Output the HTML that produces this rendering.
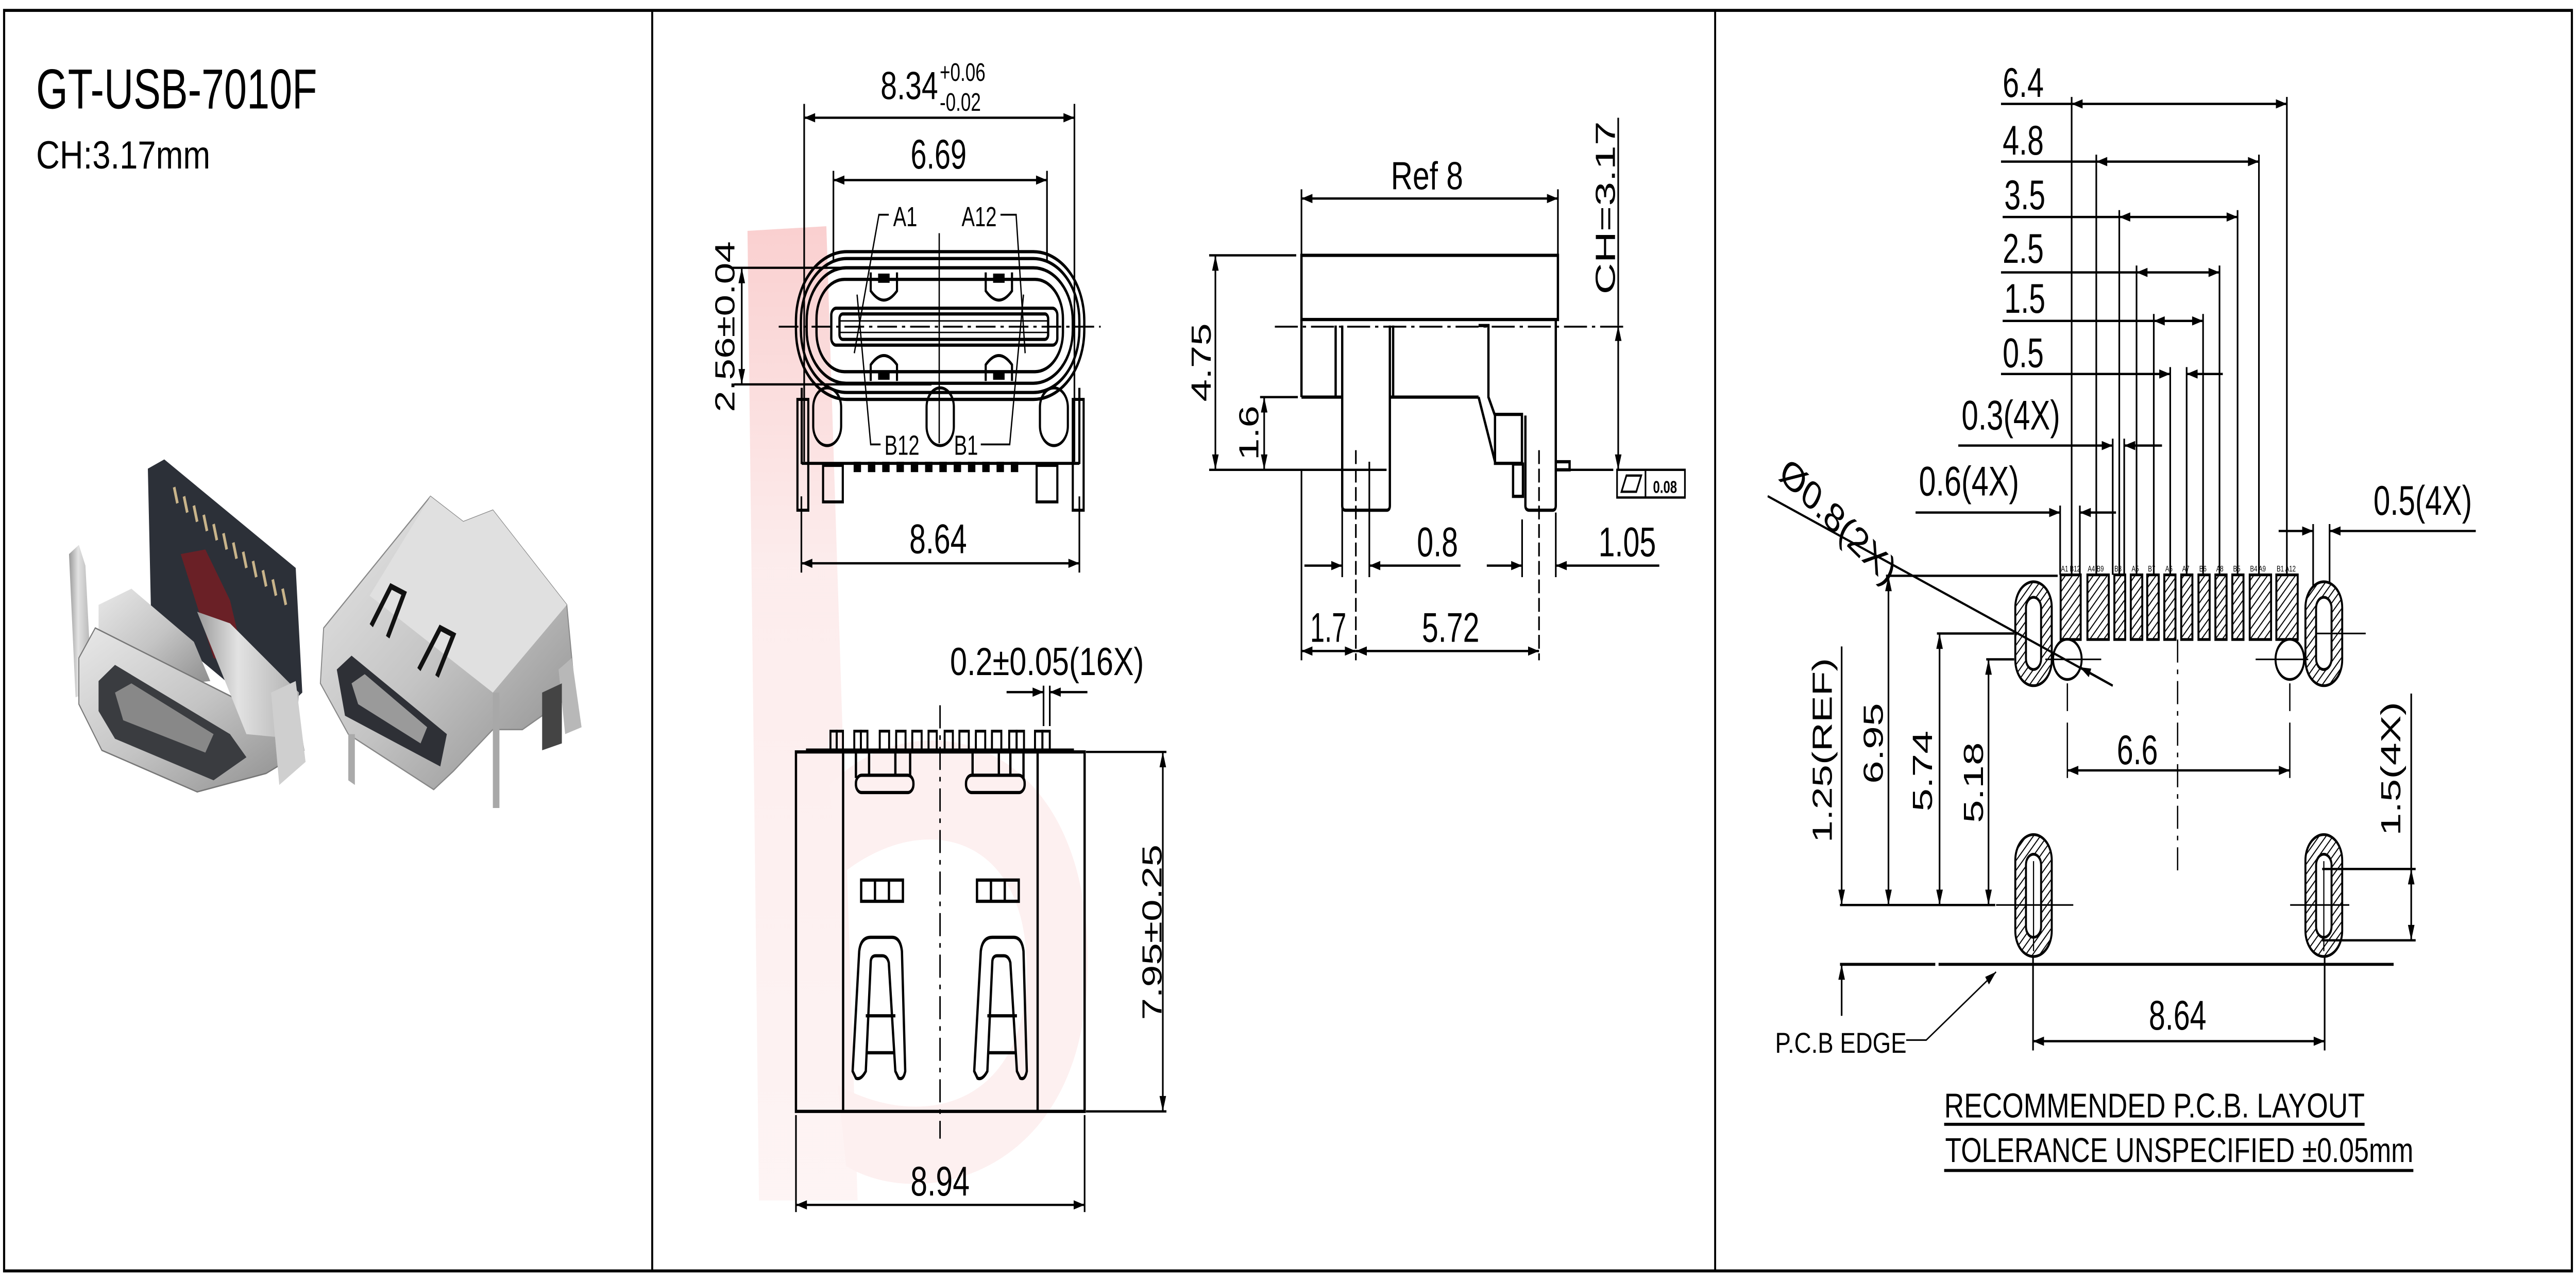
<!DOCTYPE html>
<html><head><meta charset="utf-8"><style>
html,body{margin:0;padding:0;background:#fff;width:100%;height:100%;overflow:hidden;}
svg{display:block;position:absolute;left:0;top:0;width:100vw;height:100vh;}
text{font-family:"Liberation Sans",Arial,sans-serif;fill:#000;}
</style></head><body>
<svg xmlns="http://www.w3.org/2000/svg" viewBox="0 0 1568 554" preserveAspectRatio="none">
<defs>
<marker id="a" viewBox="0 0 10 6" refX="10" refY="3" markerWidth="8" markerHeight="4" markerUnits="userSpaceOnUse" orient="auto-start-reverse"><path d="M0,0 L10,3 L0,6 z" fill="#000"/></marker>
<pattern id="h" patternUnits="userSpaceOnUse" width="3" height="3" patternTransform="rotate(45)"><rect width="3" height="3" fill="#fff"/><line x1="0" y1="0" x2="0" y2="3" stroke="#000" stroke-width="1.1"/></pattern>
<linearGradient id="pk" x1="0" y1="0" x2="0" y2="1"><stop offset="0" stop-color="#f8c4c4"/><stop offset="0.35" stop-color="#fce8e8"/><stop offset="1" stop-color="#fdf1f1"/></linearGradient>
<linearGradient id="met" x1="0" y1="0" x2="1" y2="1"><stop offset="0" stop-color="#e8e8e8"/><stop offset="0.5" stop-color="#c4c4c4"/><stop offset="1" stop-color="#8a8a8a"/></linearGradient>
<linearGradient id="met2" x1="0" y1="0" x2="1" y2="0"><stop offset="0" stop-color="#9a9a9a"/><stop offset="0.4" stop-color="#e2e2e2"/><stop offset="1" stop-color="#b0b0b0"/></linearGradient>
</defs>

<rect x="2.5" y="4.5" width="1563" height="546" fill="none" stroke="#000" stroke-width="1.3"/>
<line x1="397" y1="4.5" x2="397" y2="550.5" stroke="#000" stroke-width="1.2"/>
<line x1="1044" y1="4.5" x2="1044" y2="550.5" stroke="#000" stroke-width="1.2"/>

<text x="22" y="47" font-size="24.5" textLength="171" lengthAdjust="spacingAndGlyphs">GT-USB-7010F</text>
<text x="22" y="73" font-size="17" textLength="106" lengthAdjust="spacingAndGlyphs">CH:3.17mm</text>

<g>
<polygon points="42,240 48,236 52,245 56,300 46,302" fill="url(#met2)"/>
<polygon points="90,203 100,199 180,246 184,300 166,312 92,268" fill="#2c3038"/>
<polygon points="110,240 125,238 140,260 150,290 130,285" fill="#7a1d22" opacity="0.8"/>
<g stroke="#c9b48a" stroke-width="1.6">
<line x1="106" y1="211" x2="108" y2="218"/><line x1="112" y1="215" x2="114" y2="222"/><line x1="118" y1="219" x2="120" y2="226"/><line x1="124" y1="223" x2="126" y2="230"/><line x1="130" y1="227" x2="132" y2="234"/><line x1="136" y1="231" x2="138" y2="238"/><line x1="142" y1="235" x2="144" y2="242"/><line x1="148" y1="239" x2="150" y2="246"/><line x1="154" y1="243" x2="156" y2="250"/><line x1="160" y1="247" x2="162" y2="254"/><line x1="166" y1="251" x2="168" y2="258"/><line x1="172" y1="255" x2="174" y2="262"/>
</g>
<polygon points="60,262 80,255 118,278 128,295 60,300" fill="url(#met)"/>
<polygon points="48,285 58,272 150,305 182,312 185,325 162,335 120,343 62,325 48,305" fill="url(#met)" stroke="#777" stroke-width="0.6"/>
<polygon points="60,295 70,288 140,318 150,328 130,338 70,320 60,308" fill="#3a3c40"/>
<polygon points="70,300 80,296 130,318 125,326 75,312" fill="#888"/>
<polygon points="120,265 140,270 182,300 180,320 150,318" fill="url(#met2)"/>
<polygon points="165,300 180,295 186,330 170,340" fill="#cfcfcf"/>
</g>
<g>
<polygon points="197,272 262,215 282,226 300,221 345,262 350,300 318,316 300,316 276,334 264,342 212,318 195,296" fill="url(#met)" stroke="#888" stroke-width="0.6"/>
<polygon points="262,215 282,226 300,221 345,262 300,300 225,258" fill="#e0e0e0"/>
<polygon points="205,290 214,284 272,318 268,332 210,310" fill="#2e3036"/>
<polygon points="214,296 222,292 260,315 256,322 218,305" fill="#9a9a9a"/>
<path d="M226,271 L238,254 L246,257 L236,276" fill="none" stroke="#111" stroke-width="2.4"/>
<path d="M255,290 L268,272 L276,275 L266,293" fill="none" stroke="#111" stroke-width="2.4"/>
<polygon points="300,300 304,300 304,350 300,350" fill="#a8a8a8"/>
<polygon points="340,290 348,285 354,315 344,318" fill="#b8b8b8"/>
<polygon points="330,300 342,296 342,322 330,325" fill="#444"/>
<polygon points="212,318 216,318 216,340 212,338" fill="#aaa"/>
</g>

<polygon points="455,100 503,98 522,520 462,520" fill="url(#pk)" opacity="0.8"/>
<path d="M505,340 C560,300 665,320 662,420 C660,510 560,525 515,505 L510,470 C560,490 625,480 625,420 C625,360 560,350 510,380 Z" fill="#fdf0f0"/>

<g stroke="#000" fill="none" stroke-width="1">
<line x1="489.5" y1="45" x2="489.5" y2="200"/>
<line x1="654" y1="45" x2="654" y2="200"/>
<line x1="489.5" y1="51" x2="654" y2="51" marker-start="url(#a)" marker-end="url(#a)"/>
<line x1="507.3" y1="74" x2="507.3" y2="113"/>
<line x1="637.3" y1="74" x2="637.3" y2="113"/>
<line x1="507.3" y1="78" x2="637.3" y2="78" marker-start="url(#a)" marker-end="url(#a)"/>
<line x1="445" y1="116" x2="534" y2="116"/>
<line x1="447" y1="166.5" x2="567" y2="166.5"/>
<line x1="451.5" y1="116" x2="451.5" y2="166.5" marker-start="url(#a)" marker-end="url(#a)"/>
<line x1="487.8" y1="215" x2="487.8" y2="248"/>
<line x1="657" y1="215" x2="657" y2="248"/>
<line x1="487.8" y1="244" x2="657" y2="244" marker-start="url(#a)" marker-end="url(#a)"/>
<g stroke-width="1.4">
<rect x="484.5" y="109" width="175.5" height="64" rx="31" ry="30"/>
<rect x="487.5" y="112" width="169.5" height="58" rx="28" ry="27"/>
<rect x="491" y="116" width="162" height="50" rx="24" ry="23"/>
<rect x="497" y="121" width="150" height="40" rx="17" ry="17"/>
<rect x="506" y="133.5" width="137.6" height="16" rx="3"/>
<rect x="511" y="136" width="127" height="11" rx="2"/>
</g>
<line x1="511" y1="139" x2="638" y2="139" stroke-width="0.6"/>
<line x1="511" y1="144" x2="638" y2="144" stroke-width="0.6"/>
<path d="M530,118 L530,126 Q538,134 546,126 L546,118" stroke-width="1.3"/>
<path d="M600,118 L600,126 Q608,134 616,126 L616,118" stroke-width="1.3"/>
<path d="M530,165 L530,158 Q538,150 546,158 L546,165" stroke-width="1.3"/>
<path d="M600,165 L600,158 Q608,150 616,158 L616,165" stroke-width="1.3"/>
<rect x="535" y="119" width="6" height="3" fill="#000"/><rect x="605" y="119" width="6" height="3" fill="#000"/>
<rect x="535" y="161" width="6" height="3" fill="#000"/><rect x="605" y="161" width="6" height="3" fill="#000"/>
<line x1="474" y1="141.5" x2="670" y2="141.5" stroke-dasharray="12,3,2,3" stroke-width="0.8"/>
<line x1="571.7" y1="101" x2="571.7" y2="192" stroke-width="0.8"/>
<path d="M541,93 L535,93 L520,153" stroke-width="0.8"/>
<path d="M609,93 L618.5,93 L624,153" stroke-width="0.8"/>
<path d="M536,192.5 L530,192.5 L521.7,127.6" stroke-width="0.8"/>
<path d="M597,192.5 L614.6,192.5 L623,127.6" stroke-width="0.8"/>
<g stroke-width="1.3">
<line x1="488" y1="168" x2="488" y2="201"/><line x1="657" y1="168" x2="657" y2="201"/>
<line x1="488" y1="200.7" x2="657" y2="200.7"/>
<rect x="485.4" y="173" width="6.6" height="48"/>
<rect x="653" y="173" width="6.6" height="48"/>
<rect x="495" y="168" width="17" height="25" rx="8.5"/>
<rect x="564" y="168" width="16.6" height="25" rx="8.3"/>
<rect x="633" y="168" width="17" height="25" rx="8.5"/>
<rect x="501" y="201.6" width="12" height="15.8"/>
<rect x="631" y="201.6" width="12.6" height="15.8"/>
</g>
<g fill="#000" stroke="none">
<rect x="519.6" y="200" width="4.5" height="4.5"/><rect x="528.3" y="200" width="4.5" height="4.5"/><rect x="537" y="200" width="4.5" height="4.5"/><rect x="545.7" y="200" width="4.5" height="4.5"/><rect x="554.4" y="200" width="4.5" height="4.5"/><rect x="563.1" y="200" width="4.5" height="4.5"/><rect x="571.8" y="200" width="4.5" height="4.5"/><rect x="580.5" y="200" width="4.5" height="4.5"/><rect x="589.2" y="200" width="4.5" height="4.5"/><rect x="597.9" y="200" width="4.5" height="4.5"/><rect x="606.6" y="200" width="4.5" height="4.5"/><rect x="615.3" y="200" width="4.5" height="4.5"/>
</g>

<line x1="792.2" y1="82" x2="792.2" y2="111"/>
<line x1="948.3" y1="82" x2="948.3" y2="111"/>
<line x1="792.2" y1="86" x2="948.3" y2="86" marker-start="url(#a)" marker-end="url(#a)"/>
<g stroke-width="1.4">
<rect x="792.2" y="110.6" width="156.1" height="27.8"/>
<line x1="792.2" y1="138.4" x2="792.2" y2="172"/>
<line x1="792.2" y1="172" x2="817" y2="172"/>
<line x1="813" y1="141" x2="813" y2="172"/>
<path d="M817,141 L817,219 Q817,221 819,221 L844,221 Q846,221 846,219 L846,141"/>
<line x1="848" y1="141" x2="848" y2="172"/>
<line x1="846" y1="172" x2="900" y2="172"/>
<path d="M900,141 L906,141 L906,172 L910,180"/>
<path d="M900,172 L910,200"/>
<rect x="910" y="179.5" width="16.4" height="21.2"/>
<path d="M928.5,180 L928.5,219 Q928.5,221 931,221 L945,221 Q947,221 947,219 L947,138"/>
<rect x="921" y="201" width="6" height="14"/>
<rect x="947" y="200" width="8.4" height="3.5"/>
</g>
<line x1="776" y1="141.5" x2="988" y2="141.5" stroke-dasharray="14,3,2,3" stroke-width="0.8"/>
<line x1="736" y1="110.6" x2="789" y2="110.6"/>
<line x1="736" y1="203.5" x2="844" y2="203.5"/>
<line x1="955" y1="203.5" x2="982" y2="203.5"/>
<line x1="739.8" y1="110.6" x2="739.8" y2="203.5" marker-start="url(#a)" marker-end="url(#a)"/>
<line x1="767" y1="172" x2="790" y2="172"/>
<line x1="769.5" y1="172" x2="769.5" y2="203.5" marker-start="url(#a)" marker-end="url(#a)"/>
<line x1="985" y1="51" x2="985" y2="141"/>
<line x1="985" y1="141" x2="985" y2="203.5" marker-start="url(#a)" marker-end="url(#a)"/>
<rect x="984.3" y="203.5" width="41.3" height="12"/>
<line x1="1001.6" y1="203.5" x2="1001.6" y2="215.5"/>
<path d="M987,213 L990,206 L999,206 L996,213 Z"/>
<line x1="792.2" y1="204" x2="792.2" y2="286"/>
<line x1="817" y1="195" x2="817" y2="250"/>
<line x1="825.3" y1="195" x2="825.3" y2="286" stroke-dasharray="6,2"/>
<line x1="833.5" y1="200" x2="833.5" y2="250"/>
<line x1="926.5" y1="225" x2="926.5" y2="250"/>
<line x1="936.8" y1="195" x2="936.8" y2="286" stroke-dasharray="6,2"/>
<line x1="947" y1="222" x2="947" y2="250"/>
<line x1="794" y1="245" x2="817" y2="245" marker-end="url(#a)"/>
<line x1="889" y1="245" x2="833.5" y2="245" marker-end="url(#a)"/>
<line x1="905" y1="245" x2="926.5" y2="245" marker-end="url(#a)"/>
<line x1="1010" y1="245" x2="947" y2="245" marker-end="url(#a)"/>
<line x1="792.2" y1="282" x2="825.3" y2="282" marker-start="url(#a)" marker-end="url(#a)"/>
<line x1="825.3" y1="282" x2="936.8" y2="282" marker-start="url(#a)" marker-end="url(#a)"/>

<g stroke-width="1.4">
<rect x="484.5" y="325.7" width="175.7" height="155.7"/>
<line x1="513.2" y1="325.7" x2="513.2" y2="481.4"/>
<line x1="631.6" y1="325.7" x2="631.6" y2="481.4"/>
<line x1="490.6" y1="324.9" x2="653.7" y2="324.9"/>
<rect x="521" y="335.8" width="35" height="7.5" rx="3.5"/>
<rect x="588" y="335.8" width="35.7" height="7.5" rx="3.5"/>
<path d="M521,326 L521,337 M529,326 L529,336 M545,326 L545,336 M554,326 L554,336"/>
<path d="M592,326 L592,336 M608,326 L608,336 M615,326 L615,336 M623,326 L623,337"/>
<rect x="524.2" y="381.2" width="25.4" height="9.2"/>
<line x1="532.6" y1="381.2" x2="532.6" y2="390.4"/><line x1="541.1" y1="381.2" x2="541.1" y2="390.4"/>
<rect x="594.7" y="381.2" width="25.4" height="9.2"/>
<line x1="603.2" y1="381.2" x2="603.2" y2="390.4"/><line x1="611.6" y1="381.2" x2="611.6" y2="390.4"/>
<path d="M519,464 L523,412 Q524,406 530,406 L543,406 Q548,406 549,412 L551,464 Q550,468 547,467 L545,464 L541,417 Q540,414 537,414 L533,414 Q530,414 530,417 L527,464 Q524,468 521,467 Z"/>
<line x1="527" y1="440" x2="545" y2="440"/><line x1="528" y1="456" x2="544" y2="456"/>
<path d="M593,464 L597,412 Q598,406 604,406 L617,406 Q622,406 623,412 L625,464 Q624,468 621,467 L619,464 L615,417 Q614,414 611,414 L607,414 Q604,414 604,417 L601,464 Q598,468 595,467 Z"/>
<line x1="601" y1="440" x2="619" y2="440"/><line x1="602" y1="456" x2="618" y2="456"/>
</g>
<g stroke-width="1.2">
<rect x="505.5" y="316.7" width="3.8" height="8.2"/><rect x="509.3" y="316.7" width="3.8" height="8.2"/>
<rect x="520" y="316.7" width="4" height="8.2"/><rect x="524" y="316.7" width="4" height="8.2"/>
<rect x="535.5" y="316.7" width="5.7" height="8.2"/>
<rect x="545.5" y="316.7" width="5.7" height="8.2"/>
<rect x="555.3" y="316.7" width="5.7" height="8.2"/>
<rect x="565.2" y="316.7" width="5" height="8.2"/>
<rect x="575" y="316.7" width="5" height="8.2"/>
<rect x="584" y="316.7" width="5.7" height="8.2"/>
<rect x="594" y="316.7" width="5.7" height="8.2"/>
<rect x="603.8" y="316.7" width="5.7" height="8.2"/>
<rect x="614.3" y="316.7" width="4.5" height="8.2"/><rect x="618.8" y="316.7" width="4.5" height="8.2"/>
<rect x="630" y="316.7" width="4.5" height="8.2"/><rect x="634.5" y="316.7" width="4.5" height="8.2"/>
</g>
<line x1="572.2" y1="305.5" x2="572.2" y2="493.2" stroke-dasharray="10,3,2,3" stroke-width="0.9"/>
<line x1="635.2" y1="297" x2="635.2" y2="314.5"/>
<line x1="639" y1="297" x2="639" y2="314.5"/>
<line x1="612.7" y1="299.8" x2="635.2" y2="299.8" marker-end="url(#a)"/>
<line x1="661.9" y1="299.8" x2="639" y2="299.8" marker-end="url(#a)"/>
<line x1="661" y1="325.7" x2="710" y2="325.7"/>
<line x1="661" y1="481.4" x2="710" y2="481.4"/>
<line x1="707.8" y1="325.7" x2="707.8" y2="481.4" marker-start="url(#a)" marker-end="url(#a)"/>
<line x1="484.5" y1="483" x2="484.5" y2="525"/>
<line x1="660.2" y1="483" x2="660.2" y2="525"/>
<line x1="484.5" y1="521.9" x2="660.2" y2="521.9" marker-start="url(#a)" marker-end="url(#a)"/>

<line x1="1261" y1="42" x2="1261" y2="249"/>
<line x1="1392" y1="42" x2="1392" y2="249"/>
<line x1="1218" y1="45" x2="1261" y2="45"/>
<line x1="1261" y1="45" x2="1392" y2="45" marker-start="url(#a)" marker-end="url(#a)"/>
<line x1="1276" y1="67" x2="1276" y2="249"/>
<line x1="1375" y1="67" x2="1375" y2="249"/>
<line x1="1218" y1="70" x2="1276" y2="70"/>
<line x1="1276" y1="70" x2="1375" y2="70" marker-start="url(#a)" marker-end="url(#a)"/>
<line x1="1290" y1="91" x2="1290" y2="249"/>
<line x1="1362" y1="91" x2="1362" y2="249"/>
<line x1="1219" y1="94" x2="1290" y2="94"/>
<line x1="1290" y1="94" x2="1362" y2="94" marker-start="url(#a)" marker-end="url(#a)"/>
<line x1="1300.5" y1="115" x2="1300.5" y2="249"/>
<line x1="1351" y1="115" x2="1351" y2="249"/>
<line x1="1218" y1="118" x2="1300.5" y2="118"/>
<line x1="1300.5" y1="118" x2="1351" y2="118" marker-start="url(#a)" marker-end="url(#a)"/>
<line x1="1311" y1="136" x2="1311" y2="249"/>
<line x1="1341" y1="136" x2="1341" y2="249"/>
<line x1="1219" y1="139" x2="1311" y2="139"/>
<line x1="1311" y1="139" x2="1341" y2="139" marker-start="url(#a)" marker-end="url(#a)"/>
<line x1="1321" y1="159" x2="1321" y2="249"/>
<line x1="1331" y1="159" x2="1331" y2="249"/>
<line x1="1218" y1="162" x2="1321" y2="162" marker-end="url(#a)"/>
<line x1="1353" y1="162" x2="1331" y2="162" marker-end="url(#a)"/>
<line x1="1286" y1="190" x2="1286" y2="249"/>
<line x1="1293" y1="190" x2="1293" y2="249"/>
<line x1="1192" y1="193" x2="1286" y2="193" marker-end="url(#a)"/>
<line x1="1316" y1="193" x2="1293" y2="193" marker-end="url(#a)"/>
<line x1="1254" y1="219" x2="1254" y2="249"/>
<line x1="1266" y1="219" x2="1266" y2="249"/>
<line x1="1166" y1="222" x2="1254" y2="222" marker-end="url(#a)"/>
<line x1="1288" y1="222" x2="1266" y2="222" marker-end="url(#a)"/>
<line x1="1408" y1="227" x2="1408" y2="262"/>
<line x1="1418" y1="227" x2="1418" y2="262"/>
<line x1="1387" y1="230" x2="1408" y2="230" marker-end="url(#a)"/>
<line x1="1507" y1="230" x2="1418" y2="230" marker-end="url(#a)"/>
</g>

<g stroke="#000" stroke-width="1.2" fill="url(#h)">
<rect x="1254.3" y="249" width="12.2" height="28"/>
<rect x="1270.6" y="249" width="13" height="28"/>
<rect x="1287" y="249" width="6.6" height="28"/>
<rect x="1297" y="249" width="7" height="28"/>
<rect x="1307" y="249" width="7" height="28"/>
<rect x="1317.4" y="249" width="6.8" height="28"/>
<rect x="1327.7" y="249" width="6.8" height="28"/>
<rect x="1338.2" y="249" width="6.8" height="28"/>
<rect x="1348.5" y="249" width="6.8" height="28"/>
<rect x="1358.8" y="249" width="6.8" height="28"/>
<rect x="1369.4" y="249" width="13" height="28"/>
<rect x="1385.6" y="249" width="13" height="28"/>
<rect x="1226.7" y="252" width="22.2" height="45" rx="11.1"/>
<rect x="1403.3" y="252" width="22.4" height="45" rx="11.2"/>
<rect x="1226.7" y="361.5" width="22.2" height="52.8" rx="11.1"/>
<rect x="1403.3" y="361.5" width="22.4" height="52.8" rx="11.2"/>
</g>
<g stroke="#000" stroke-width="1.2" fill="#fff">
<rect x="1233.2" y="258.7" width="9.2" height="31.3" rx="4.6"/>
<rect x="1409.8" y="258.7" width="9.4" height="31.3" rx="4.7"/>
<rect x="1233.2" y="370" width="9.2" height="36" rx="4.6"/>
<rect x="1409.8" y="370" width="9.4" height="36" rx="4.7"/>
<circle cx="1258.4" cy="285.6" r="8.7"/>
<circle cx="1393.8" cy="285.6" r="8.7"/>
</g>
<g font-size="3.6" fill="#000">
<text x="1254.5" y="247.5">A1 B12</text><text x="1270.8" y="247.5">A4 B9</text><text x="1287" y="247.5">B8</text><text x="1297.5" y="247.5">A5</text><text x="1307.5" y="247.5">B7</text><text x="1318" y="247.5">A6</text><text x="1328.3" y="247.5">A7</text><text x="1338.7" y="247.5">B6</text><text x="1349" y="247.5">A8</text><text x="1359.3" y="247.5">B5</text><text x="1369.6" y="247.5">B4 A9</text><text x="1385.8" y="247.5">B1 A12</text>
</g>
<g stroke="#000" fill="none" stroke-width="1">
<line x1="1245" y1="285.6" x2="1279" y2="285.6" stroke-width="0.7"/>
<line x1="1373" y1="285.6" x2="1405" y2="285.6" stroke-width="0.7"/>
<line x1="1410" y1="274.4" x2="1440" y2="274.4" stroke-width="0.7"/>
<line x1="1215" y1="392" x2="1262" y2="392" stroke-width="0.7"/>
<line x1="1394" y1="392" x2="1430" y2="392" stroke-width="0.7"/>
<line x1="1237.8" y1="373" x2="1237.8" y2="412" stroke-width="0.7"/>
<line x1="1414.5" y1="373" x2="1414.5" y2="412" stroke-width="0.7"/>
<line x1="1258.4" y1="296" x2="1258.4" y2="308" stroke-width="0.8"/>
<line x1="1258.4" y1="313" x2="1258.4" y2="337" stroke-width="0.8"/>
<line x1="1393.8" y1="296" x2="1393.8" y2="308" stroke-width="0.8"/>
<line x1="1393.8" y1="313" x2="1393.8" y2="337" stroke-width="0.8"/>
<line x1="1258.4" y1="333.7" x2="1393.8" y2="333.7" marker-start="url(#a)" marker-end="url(#a)"/>
<line x1="1325.5" y1="277" x2="1325.5" y2="378" stroke-dasharray="10,3,2,3" stroke-width="0.8"/>
<line x1="1148" y1="249.4" x2="1252.5" y2="249.4"/>
<line x1="1179" y1="274.4" x2="1226" y2="274.4"/>
<line x1="1209" y1="285.6" x2="1226" y2="285.6"/>
<line x1="1120" y1="392" x2="1214.5" y2="392"/>
<line x1="1120" y1="417.7" x2="1178" y2="417.7" stroke-width="1.3"/>
<line x1="1180" y1="417.7" x2="1457" y2="417.7" stroke-width="1.3"/>
<line x1="1121" y1="280" x2="1121" y2="392" marker-end="url(#a)"/>
<line x1="1121" y1="440" x2="1121" y2="417.7" marker-end="url(#a)"/>
<line x1="1149.5" y1="249.4" x2="1149.5" y2="392" marker-start="url(#a)" marker-end="url(#a)"/>
<line x1="1180.6" y1="274.4" x2="1180.6" y2="392" marker-start="url(#a)" marker-end="url(#a)"/>
<line x1="1210.4" y1="285.6" x2="1210.4" y2="392" marker-start="url(#a)" marker-end="url(#a)"/>
<line x1="1413.5" y1="376.4" x2="1470.4" y2="376.4"/>
<line x1="1413.5" y1="407.3" x2="1470.4" y2="407.3"/>
<line x1="1467.7" y1="300.4" x2="1467.7" y2="376.4"/>
<line x1="1467.7" y1="376.4" x2="1467.7" y2="407.3" marker-start="url(#a)" marker-end="url(#a)"/>
<line x1="1237.5" y1="414" x2="1237.5" y2="455"/>
<line x1="1415" y1="414" x2="1415" y2="455"/>
<line x1="1237.5" y1="451" x2="1415" y2="451" marker-start="url(#a)" marker-end="url(#a)"/>
<path d="M1160.3,450.5 L1172.5,450.5 L1215,421" stroke-width="0.7" marker-end="url(#a)"/>
<line x1="1076" y1="214.9" x2="1286" y2="297" stroke-width="1"/>
<line x1="1286" y1="297" x2="1266" y2="289" marker-end="url(#a)"/>
<line x1="1183.4" y1="487" x2="1439.3" y2="487" stroke-width="1.3"/>
<line x1="1183.4" y1="507" x2="1469" y2="507" stroke-width="1.3"/>
</g>

<g font-size="18">
<text x="536" y="43" font-size="17" textLength="35" lengthAdjust="spacingAndGlyphs">8.34</text>
<text x="572" y="35" font-size="11">+0.06</text>
<text x="572" y="48" font-size="11">-0.02</text>
<text x="571.3" y="73" text-anchor="middle" textLength="34" lengthAdjust="spacingAndGlyphs">6.69</text>
<text x="551" y="98" font-size="12" text-anchor="middle">A1</text>
<text x="596" y="98" font-size="12" text-anchor="middle">A12</text>
<text x="549" y="197" font-size="12" text-anchor="middle">B12</text>
<text x="588" y="197" font-size="12" text-anchor="middle">B1</text>
<text transform="translate(447,141.5) rotate(-90)" text-anchor="middle" font-size="17" textLength="74" lengthAdjust="spacingAndGlyphs">2.56±0.04</text>
<text x="571" y="239.6" text-anchor="middle" textLength="35" lengthAdjust="spacingAndGlyphs">8.64</text>
<text x="868.6" y="82" text-anchor="middle" font-size="17" textLength="44" lengthAdjust="spacingAndGlyphs">Ref 8</text>
<text transform="translate(737,157) rotate(-90)" text-anchor="middle" font-size="17" textLength="34" lengthAdjust="spacingAndGlyphs">4.75</text>
<text transform="translate(766,187.5) rotate(-90)" text-anchor="middle" font-size="17">1.6</text>
<text transform="translate(983,90) rotate(-90)" text-anchor="middle" font-size="17" textLength="75" lengthAdjust="spacingAndGlyphs">CH=3.17</text>
<text x="1013.5" y="213.5" font-size="7.5" text-anchor="middle" font-weight="bold">0.08</text>
<text x="875" y="241" text-anchor="middle">0.8</text>
<text x="990.5" y="241" text-anchor="middle">1.05</text>
<text x="808.5" y="278" text-anchor="middle" textLength="22" lengthAdjust="spacingAndGlyphs">1.7</text>
<text x="883" y="278" text-anchor="middle">5.72</text>
<text x="637.3" y="292.4" text-anchor="middle" font-size="17" textLength="118" lengthAdjust="spacingAndGlyphs">0.2±0.05(16X)</text>
<text transform="translate(707,403.8) rotate(-90)" text-anchor="middle" font-size="17" textLength="76" lengthAdjust="spacingAndGlyphs">7.95±0.25</text>
<text x="572.2" y="517.8" text-anchor="middle" textLength="36" lengthAdjust="spacingAndGlyphs">8.94</text>

<text x="1219" y="42">6.4</text>
<text x="1219" y="67">4.8</text>
<text x="1220" y="90.6">3.5</text>
<text x="1219" y="113.8">2.5</text>
<text x="1220" y="135.5">1.5</text>
<text x="1219" y="159">0.5</text>
<text x="1194" y="186" textLength="60" lengthAdjust="spacingAndGlyphs">0.3(4X)</text>
<text x="1168" y="214.6" textLength="61" lengthAdjust="spacingAndGlyphs">0.6(4X)</text>
<text x="1444.7" y="223" textLength="60" lengthAdjust="spacingAndGlyphs">0.5(4X)</text>
<text transform="translate(1082,207) rotate(35)" font-size="17" textLength="82" lengthAdjust="spacingAndGlyphs">Ø0.8(2X)</text>
<text x="1301" y="331" text-anchor="middle">6.6</text>
<text transform="translate(1115,325) rotate(-90)" text-anchor="middle" font-size="17" textLength="80" lengthAdjust="spacingAndGlyphs">1.25(REF)</text>
<text transform="translate(1146,322) rotate(-90)" text-anchor="middle" font-size="17" textLength="35" lengthAdjust="spacingAndGlyphs">6.95</text>
<text transform="translate(1176,334) rotate(-90)" text-anchor="middle" font-size="17" textLength="35" lengthAdjust="spacingAndGlyphs">5.74</text>
<text transform="translate(1207,339) rotate(-90)" text-anchor="middle" font-size="17" textLength="35" lengthAdjust="spacingAndGlyphs">5.18</text>
<text transform="translate(1461,333) rotate(-90)" text-anchor="middle" font-size="17" textLength="58" lengthAdjust="spacingAndGlyphs">1.5(4X)</text>
<text x="1325.5" y="446" text-anchor="middle" textLength="35" lengthAdjust="spacingAndGlyphs">8.64</text>
<text x="1080.5" y="456" font-size="12.5" textLength="80" lengthAdjust="spacingAndGlyphs">P.C.B EDGE</text>
<text x="1183.4" y="484" font-size="15" textLength="256" lengthAdjust="spacingAndGlyphs">RECOMMENDED  P.C.B. LAYOUT</text>
<text x="1184" y="503.3" font-size="15" textLength="285" lengthAdjust="spacingAndGlyphs">TOLERANCE UNSPECIFIED ±0.05mm</text>
</g>
</svg>
</body></html>
